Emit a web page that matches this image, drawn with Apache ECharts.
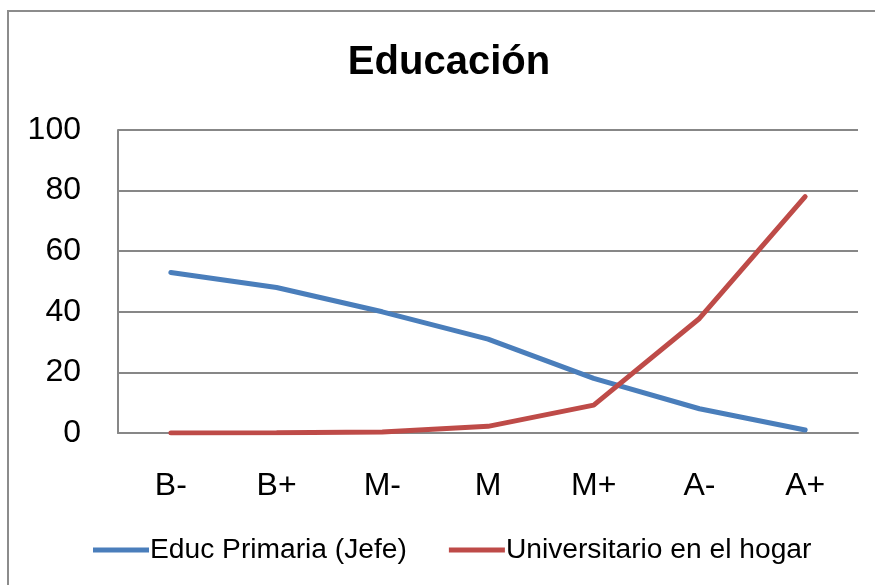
<!DOCTYPE html>
<html>
<head>
<meta charset="utf-8">
<script src="https://cdn.jsdelivr.net/npm/echarts@6/dist/echarts.min.js"></script>
<style>
  html, body { margin: 0; padding: 0; background: #fff; }
  #main { width: 875px; height: 585px; }
</style>
</head>
<body>
<div id="main"></div>
<script>
const categories = ["B-", "B+", "M-", "M", "M+", "A-", "A+"];
const educPrimaria = [53, 48, 40, 31, 18, 8, 1];
const universitario = [0, 0.1, 0.3, 2.2, 9.2, 37.8, 78];
const yTicks = { min: 0, max: 100, interval: 20 };

const font = "'Liberation Sans', Arial, sans-serif";
const chart = echarts.init(document.getElementById("main"));

const option = {
  animation: false,
  backgroundColor: "#fff",
  title: {
    text: "Educación",
    top: 38,
    left: 444,
    textAlign: "center",
    textStyle: { fontFamily: font, fontSize: 40, fontWeight: "bold", color: "#000" }
  },
  graphic: [
    {
      type: "rect",
      shape: { x: 8, y: 11, width: 900, height: 620 },
      style: { fill: "none", stroke: "#8c8c8c", lineWidth: 2 },
      silent: true
    }
  ],
  legend: {
    bottom: 16,
    left: 88,
    itemWidth: 56,
    itemHeight: 5,
    itemGap: 42,
    icon: "rect",
    textStyle: { fontFamily: font, fontSize: 28.2, color: "#000", padding: [0, 0, 0, -4] },
    data: ["Educ Primaria (Jefe)", "Universitario en el hogar"]
  },
  grid: { left: 118, right: 17, top: 130, bottom: 152 },
  xAxis: {
    type: "category",
    data: categories,
    boundaryGap: true,
    axisLine: { lineStyle: { color: "#878787", width: 2 } },
    axisTick: { show: false },
    axisLabel: { fontFamily: font, fontSize: 32, color: "#000", margin: 37 }
  },
  yAxis: {
    type: "value",
    min: yTicks.min,
    max: yTicks.max,
    interval: yTicks.interval,
    axisLine: { show: true, lineStyle: { color: "#878787", width: 2 } },
    axisTick: { show: false },
    splitLine: { lineStyle: { color: "#878787", width: 2 } },
    axisLabel: { fontFamily: font, fontSize: 32, color: "#000", margin: 37 }
  },
  series: [
    {
      name: "Educ Primaria (Jefe)",
      type: "line",
      data: educPrimaria,
      symbol: "none",
      color: "#4a7ebb",
      lineStyle: { width: 5, color: "#4a7ebb", cap: "round" }
    },
    {
      name: "Universitario en el hogar",
      type: "line",
      data: universitario,
      symbol: "none",
      color: "#be4b48",
      lineStyle: { width: 5, color: "#be4b48", cap: "round" }
    }
  ]
};
chart.setOption(option);
</script>
</body>
</html>
